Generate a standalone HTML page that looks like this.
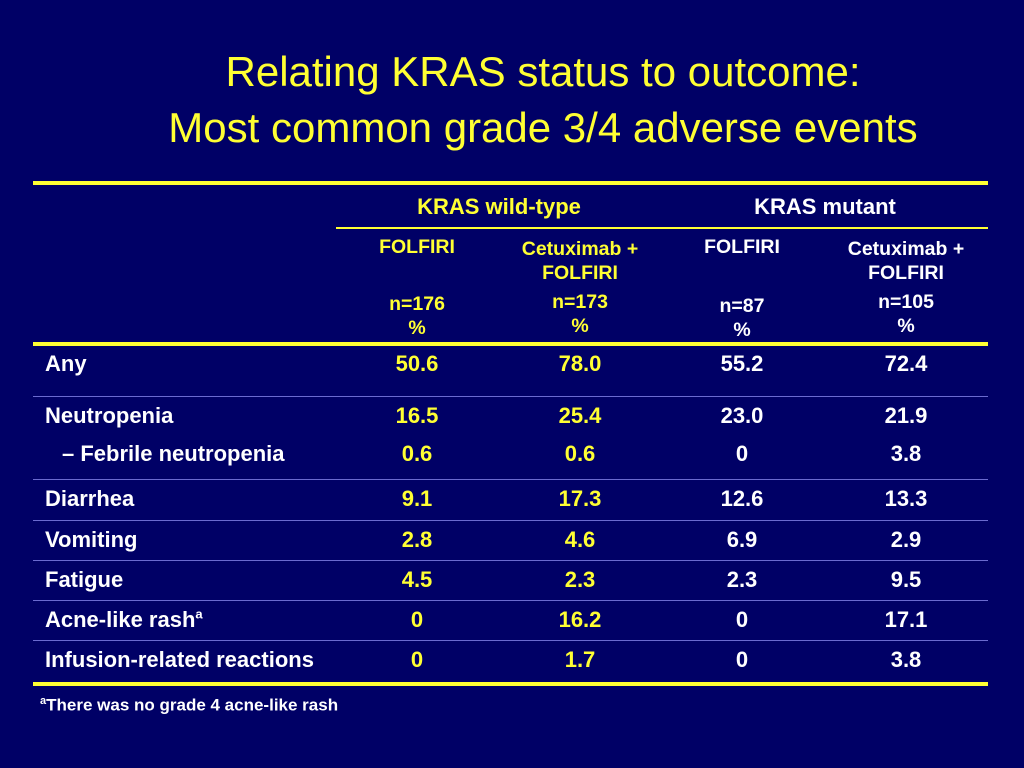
<!DOCTYPE html>
<html><head><meta charset="utf-8"><style>
body{margin:0;width:1024px;height:768px;background:#000066;position:relative;overflow:hidden;font-family:"Liberation Sans",Arial,sans-serif;}
.t{position:absolute;white-space:nowrap;}
.c{transform:translateX(-50%);text-align:center;}
.y{color:#ffff33}.w{color:#fff}
.b{font-weight:bold;font-size:22px;line-height:26px;}
.h{font-weight:bold;font-size:19.5px;line-height:24px;}
.ln{position:absolute;}
</style></head><body>
<div class="t c y" style="left:543px;top:44px;font-size:42px;line-height:56px;">Relating KRAS status to outcome:<br>Most common grade 3/4 adverse events</div>
<div class="ln" style="left:33px;top:181px;width:955px;height:4px;background:#ffff33"></div>
<div class="ln" style="left:336px;top:227px;width:652px;height:2px;background:#ffff33"></div>
<div class="ln" style="left:33px;top:342px;width:955px;height:4px;background:#ffff33"></div>
<div class="ln" style="left:33px;top:682px;width:955px;height:4px;background:#ffff33"></div>
<div class="t c y b" style="left:499px;top:194px">KRAS wild-type</div>
<div class="t c w b" style="left:825px;top:194px">KRAS mutant</div>
<div class="t c y h" style="left:417px;top:235px">FOLFIRI</div>
<div class="t c y h" style="left:580px;top:237px">Cetuximab +<br>FOLFIRI</div>
<div class="t c w h" style="left:742px;top:235px">FOLFIRI</div>
<div class="t c w h" style="left:906px;top:237px">Cetuximab +<br>FOLFIRI</div>
<div class="t c y h" style="left:417px;top:292px">n=176<br>%</div>
<div class="t c y h" style="left:580px;top:290px">n=173<br>%</div>
<div class="t c w h" style="left:742px;top:294px">n=87<br>%</div>
<div class="t c w h" style="left:906px;top:290px">n=105<br>%</div>
<div class="t w" style="left:40px;top:695px;font-size:17px;font-weight:bold"><sup style="font-size:11px">a</sup>There was no grade 4 acne-like rash</div>
<script>
const labels=["Any","Neutropenia","\u2013 Febrile neutropenia","Diarrhea","Vomiting","Fatigue","Acne-like rash","Infusion-related reactions"];
const wtFolfiri=["50.6","16.5","0.6","9.1","2.8","4.5","0","0"];
const wtCetux=["78.0","25.4","0.6","17.3","4.6","2.3","16.2","1.7"];
const mtFolfiri=["55.2","23.0","0","12.6","6.9","2.3","0","0"];
const mtCetux=["72.4","21.9","3.8","13.3","2.9","9.5","17.1","3.8"];
const rowY=[364,416,454,499,540,580,620,660];
const sepY=[396,479,520,560,600,640];
const root=document.body;
sepY.forEach(y=>{const d=document.createElement('div');


d.className='ln';d.style.cssText=`left:33px;top:${y}px;width:955px;height:1px;background:#6a6ad0`;root.appendChild(d);});
const cols=[[wtFolfiri,417,'y'],[wtCetux,580,'y'],[mtFolfiri,742,'w'],[mtCetux,906,'w']];
labels.forEach((l,i)=>{const y=rowY[i]-13;
const d=document.createElement('div');


d.className='t w b';d.style.left=(i==2?62:45)+'px';d.style.top=y+'px';
d.innerHTML=l+(i==6?'<sup style="font-size:13px;line-height:0">a</sup>':'');root.appendChild(d);
cols.forEach(([arr,x,c])=>{const v=document.createElement('div');


v.className='t c b '+c;v.style.left=x+'px';v.style.top=y+'px';v.textContent=arr[i];root.appendChild(v);});});
</script>
</body></html>
